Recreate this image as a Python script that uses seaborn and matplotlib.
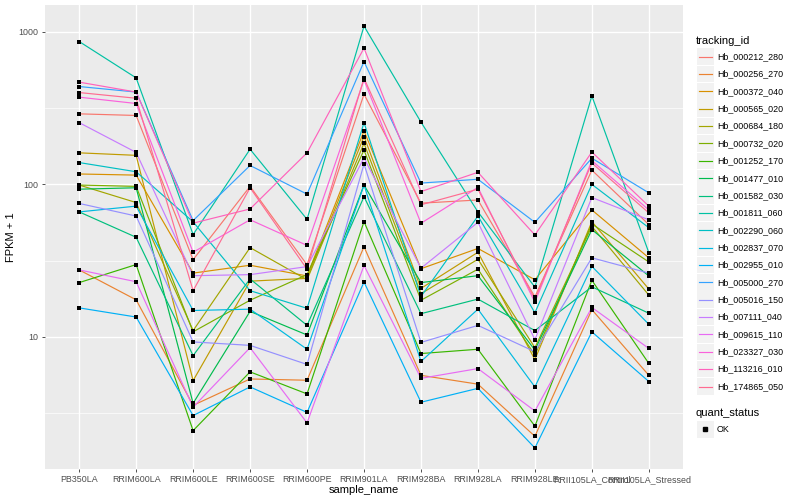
import matplotlib

matplotlib.use("Agg")
import matplotlib.pyplot as plt
import pandas as pd
import seaborn as sns
from matplotlib.lines import Line2D
from matplotlib.patches import Rectangle

# ---- data (FPKM + 1) ----
samples = [
    "PB350LA", "RRIM600LA", "RRIM600LE", "RRIM600SE", "RRIM600PE", "RRIM901LA",
    "RRIM928BA", "RRIM928LA", "RRIM928LE", "RRII105LA_Control", "RRII105LA_Stressed",
]

tracking_ids = [
    "Hb_000212_280", "Hb_000256_270", "Hb_000372_040", "Hb_000565_020",
    "Hb_000684_180", "Hb_000732_020", "Hb_001252_170", "Hb_001477_010",
    "Hb_001582_030", "Hb_001811_060", "Hb_002290_060", "Hb_002837_070",
    "Hb_002955_010", "Hb_005000_270", "Hb_005016_150", "Hb_007111_040",
    "Hb_009615_110", "Hb_023327_030", "Hb_113216_010", "Hb_174865_050",
]

hb_000212_280 = [290, 283, 32.1, 97, 29.7, 390, 75.3, 79, 18.3, 124, 54.5]
hb_000256_270 = [27.5, 17.5, 3.56, 5.3, 5.2, 39, 5.6, 4.9, 2.23, 15.1, 5.6]
hb_000372_040 = [117, 115, 26.2, 29.5, 25.1, 224, 28, 38, 23.7, 68, 33]
hb_000565_020 = [161, 155, 5.17, 23.2, 24.2, 206, 20.8, 35.9, 7.1, 57, 20.6]
hb_000684_180 = [99, 76, 11.0, 38.5, 23.7, 186, 19.2, 32.3, 8.5, 53, 18.8]
hb_000732_020 = [99, 97, 10.8, 17.4, 25.6, 168, 17.4, 27.8, 7.6, 55, 31]
hb_001252_170 = [22.7, 29.8, 2.43, 5.9, 4.23, 57, 7.78, 8.3, 2.6, 23.5, 6.7]
hb_001477_010 = [93, 95, 3.67, 14.7, 10.3, 99, 22.7, 25.2, 8.2, 50.5, 25.1]
hb_001582_030 = [66, 45, 7.54, 24, 11.9, 83, 14.2, 17.7, 11.0, 21.3, 14.3]
hb_001811_060 = [864, 499, 46.9, 170, 59, 1090, 256, 66, 21.2, 380, 35.7]
hb_002290_060 = [139, 121, 56.8, 20.1, 15.4, 254, 18.4, 62, 14.4, 100, 52]
hb_002837_070 = [66, 72, 14.9, 15.2, 8.3, 99, 6.9, 15.2, 4.7, 29, 12.1]
hb_002955_010 = [15.5, 13.5, 3.05, 4.7, 3.2, 22.9, 3.73, 4.6, 1.87, 10.8, 5.1]
hb_005000_270 = [438, 403, 57.9, 133, 86.3, 638, 102, 108, 56.4, 148.5, 88]
hb_005016_150 = [75, 62, 9.27, 8.8, 6.6, 136, 9.2, 11.9, 8.0, 33, 26.2]
hb_007111_040 = [254, 162, 25.2, 25.6, 28.9, 149, 28.2, 56.4, 9.6, 82, 58.6]
hb_009615_110 = [27.5, 23, 3.46, 8.5, 2.73, 29.4, 5.35, 6.2, 3.27, 15.6, 8.4]
hb_023327_030 = [373, 339, 35.9, 58.6, 39.8, 484, 55.6, 95.5, 16.9, 143, 68]
hb_113216_010 = [468, 403, 55.7, 69, 161, 782, 89.7, 120, 46.6, 163, 72]
hb_174865_050 = [400, 367, 20.1, 95, 27.8, 497, 73.5, 93, 17.6, 138, 65]

series = [
    hb_000212_280, hb_000256_270, hb_000372_040, hb_000565_020, hb_000684_180,
    hb_000732_020, hb_001252_170, hb_001477_010, hb_001582_030, hb_001811_060,
    hb_002290_060, hb_002837_070, hb_002955_010, hb_005000_270, hb_005016_150,
    hb_007111_040, hb_009615_110, hb_023327_030, hb_113216_010, hb_174865_050,
]

quant_status = "OK"

# ggplot2 default hue palette for 20 levels
palette = [
    "#F8766D", "#EA8331", "#D89000", "#C09B00", "#A3A500", "#7CAE00", "#39B600",
    "#00BB4E", "#00BF7D", "#00C1A3", "#00BFC4", "#00BAE0", "#00B0F6", "#35A2FF",
    "#9590FF", "#C77CFF", "#E76BF3", "#FA62DB", "#FF62BC", "#FF6C91",
]

rows = []
for tid, vals in zip(tracking_ids, series):
    for pos, (name, v) in enumerate(zip(samples, vals)):
        rows.append({"tracking_id": tid, "sample_name": name, "pos": pos,
                     "fpkm": v, "quant_status": quant_status})
df = pd.DataFrame(rows)

plt.rcParams["font.family"] = ["Liberation Sans", "DejaVu Sans"]

W, H = 800, 500
fig = plt.figure(figsize=(8, 5), dpi=100)
ax = fig.add_axes([45 / W, 31 / H, 638 / W, 464 / H])
ax.set_facecolor("#EBEBEB")

sns.lineplot(data=df, x="pos", y="fpkm", hue="tracking_id", hue_order=tracking_ids,
             palette=palette, linewidth=0.85, sort=False, estimator=None,
             legend=False, ax=ax, zorder=3)
sns.scatterplot(data=df, x="pos", y="fpkm", color="black", marker="s", s=5.5,
                linewidth=0, legend=False, ax=ax, zorder=4)

ax.set_yscale("log")
ax.set_ylim(10 ** 0.134, 10 ** 3.176)
ax.set_xlim(-0.6, len(samples) - 0.4)

ax.set_yticks([10, 100, 1000])
ax.set_yticklabels(["10", "100", "1000"])
ax.set_yticks([10 ** 0.5, 10 ** 1.5, 10 ** 2.5], minor=True)
ax.yaxis.set_minor_formatter(matplotlib.ticker.NullFormatter())
ax.set_xticks(range(len(samples)))
ax.set_xticklabels(samples)

ax.grid(which="major", color="white", linewidth=1.0, zorder=0)
ax.grid(which="minor", axis="y", color="white", linewidth=0.5, zorder=0)
ax.set_axisbelow(True)
for sp in ax.spines.values():
    sp.set_visible(False)
ax.tick_params(which="major", length=2.5, width=0.6, color="#333333",
               labelsize=6.4, labelcolor="#4D4D4D", pad=2)
ax.tick_params(which="minor", length=0)

ax.set_xlabel("sample_name", fontsize=8, color="black", labelpad=0.5)
ax.set_ylabel("FPKM + 1", fontsize=8, color="black", labelpad=2)

# ---- legend (drawn like ggplot's guide) ----
def fx(px):
    return px / W


def fy(py):
    return 1 - py / H


fig.text(fx(696), fy(40.5), "tracking_id", fontsize=8, va="center", ha="left")
for i, (tid, col) in enumerate(zip(tracking_ids, palette)):
    yc = 56.7 + 17.36 * i
    fig.add_artist(Rectangle((fx(697), fy(yc + 8.3)), 16.5 / W, 16.6 / H,
                             facecolor="#F2F2F2", edgecolor="none",
                             transform=fig.transFigure))
    fig.add_artist(Line2D([fx(698.5), fx(712)], [fy(yc), fy(yc)], color=col,
                          linewidth=0.85, transform=fig.transFigure))
    fig.text(fx(717), fy(yc), tid, fontsize=6.4, va="center", ha="left")

fig.text(fx(696), fy(412.5), "quant_status", fontsize=8, va="center", ha="left")
fig.add_artist(Rectangle((fx(697), fy(429.3 + 8.3)), 16.5 / W, 16.6 / H,
                         facecolor="#F2F2F2", edgecolor="none",
                         transform=fig.transFigure))
fig.add_artist(Line2D([fx(705)], [fy(429.3)], marker="s", markersize=2.4,
                      color="black", linestyle="none", transform=fig.transFigure))
fig.text(fx(717), fy(429.3), quant_status, fontsize=6.4, va="center", ha="left")

fig.savefig("out.png", dpi=100)
